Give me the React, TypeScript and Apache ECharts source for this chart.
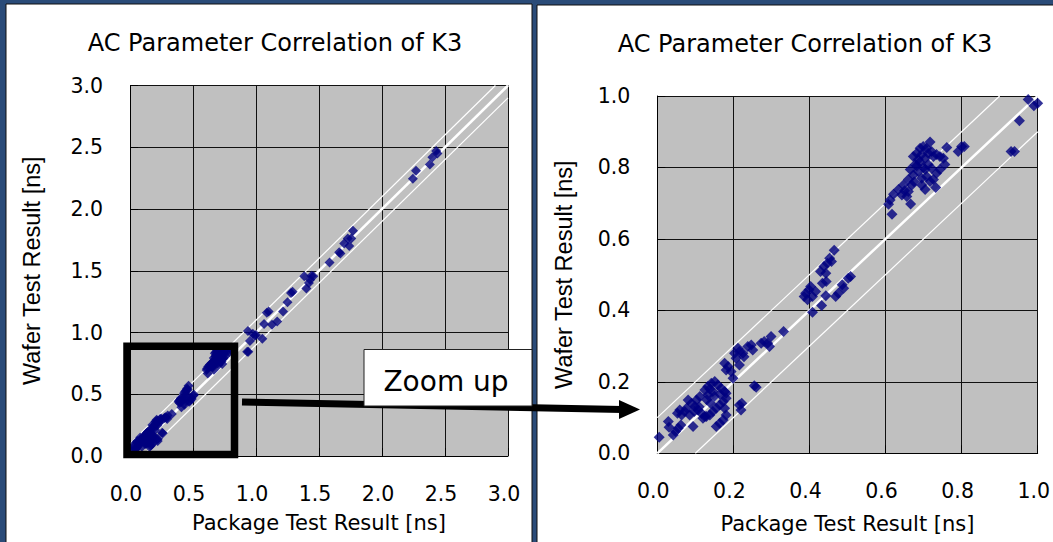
import React, { useEffect, useRef } from 'react';
import * as echarts from 'echarts';

const leftTicks = [0, 0.5, 1, 1.5, 2, 2.5, 3];
const rightTicks = [0, 0.2, 0.4, 0.6, 0.8, 1];
const titleText = 'AC Parameter Correlation of K3';
const xName = 'Package Test Result [ns]';
const yName = 'Wafer Test Result [ns]';
const zoomLabel = 'Zoom up';
const refOffsets = [0, 0.1, -0.1];

const lowCluster: number[][] = [
  [0.005, 0.045], [0.029, 0.089], [0.031, 0.073], [0.042, 0.051], [0.048, 0.061], [0.055, 0.07],
  [0.062, 0.079], [0.053, 0.112], [0.064, 0.107], [0.059, 0.121], [0.072, 0.117], [0.081, 0.149],
  [0.09, 0.14], [0.099, 0.131], [0.107, 0.121], [0.116, 0.112], [0.125, 0.103], [0.085, 0.107],
  [0.097, 0.117], [0.077, 0.126], [0.103, 0.149], [0.112, 0.159], [0.094, 0.075], [0.125, 0.177],
  [0.133, 0.187], [0.142, 0.196], [0.151, 0.201], [0.159, 0.191], [0.168, 0.182], [0.177, 0.173],
  [0.181, 0.154], [0.173, 0.145], [0.164, 0.135], [0.155, 0.126], [0.146, 0.117], [0.138, 0.107],
  [0.129, 0.103], [0.12, 0.098], [0.133, 0.163], [0.146, 0.173], [0.155, 0.075], [0.164, 0.084],
  [0.173, 0.093], [0.181, 0.107], [0.177, 0.126], [0.216, 0.135], [0.22, 0.121], [0.222, 0.14],
  [0.255, 0.189], [0.26, 0.185], [0.138, 0.18], [0.15, 0.16], [0.165, 0.165], [0.14, 0.14],
  [0.11, 0.13], [0.13, 0.15], [0.181, 0.168],
];

const lowerMidCluster: number[][] = [
  [0.177, 0.252], [0.186, 0.243], [0.194, 0.229], [0.199, 0.21], [0.181, 0.233], [0.216, 0.247],
  [0.207, 0.266], [0.216, 0.285], [0.212, 0.294], [0.203, 0.28], [0.238, 0.299], [0.247, 0.303],
  [0.251, 0.289], [0.273, 0.308], [0.281, 0.313], [0.29, 0.308], [0.299, 0.327], [0.295, 0.299],
  [0.332, 0.341], [0.225, 0.28], [0.228, 0.27],
];

const midCluster: number[][] = [
  [0.386, 0.439], [0.39, 0.448], [0.399, 0.458], [0.395, 0.43], [0.403, 0.467], [0.408, 0.439],
  [0.408, 0.395], [0.416, 0.453], [0.432, 0.414], [0.443, 0.441], [0.469, 0.439], [0.476, 0.448],
  [0.49, 0.462], [0.486, 0.472], [0.508, 0.495], [0.502, 0.49], [0.429, 0.509], [0.438, 0.523],
  [0.443, 0.504], [0.447, 0.532], [0.453, 0.546], [0.458, 0.537], [0.465, 0.568], [0.434, 0.476],
  [0.444, 0.481],
];

const highCluster: number[][] = [
  [0.617, 0.669], [0.608, 0.697], [0.612, 0.709], [0.621, 0.725], [0.666, 0.698], [0.634, 0.738],
  [0.647, 0.751], [0.643, 0.723], [0.656, 0.719], [0.66, 0.733], [0.66, 0.766], [0.669, 0.751],
  [0.673, 0.779], [0.665, 0.794], [0.678, 0.808], [0.673, 0.831], [0.682, 0.84], [0.691, 0.854],
  [0.699, 0.859], [0.708, 0.854], [0.717, 0.871], [0.686, 0.822], [0.695, 0.836], [0.704, 0.826],
  [0.712, 0.84], [0.721, 0.845], [0.726, 0.831], [0.734, 0.836], [0.743, 0.831], [0.752, 0.826],
  [0.761, 0.856], [0.756, 0.808], [0.743, 0.794], [0.734, 0.784], [0.721, 0.798], [0.712, 0.808],
  [0.704, 0.794], [0.686, 0.789], [0.695, 0.77], [0.708, 0.775], [0.717, 0.761], [0.726, 0.766],
  [0.704, 0.738], [0.695, 0.751], [0.732, 0.744], [0.791, 0.845], [0.8, 0.859], [0.807, 0.859],
  [0.682, 0.805], [0.69, 0.815], [0.7, 0.8], [0.675, 0.76], [0.65, 0.735],
];

const outerPoints: number[][] = [
  [0.93, 0.845], [0.939, 0.845], [0.952, 0.931], [0.99, 0.973], [0.936, 1.013], [0.975, 0.99],
  [1.0, 0.98], [1.05, 0.95], [1.064, 1.069], [1.086, 1.16], [1.1, 1.17], [1.127, 1.062],
  [1.168, 1.09], [1.215, 1.17], [1.25, 1.244], [1.278, 1.32], [1.29, 1.33], [1.383, 1.455],
  [1.43, 1.427], [1.4, 1.357], [1.455, 1.455], [1.42, 1.4], [1.44, 1.46], [1.584, 1.566],
  [1.66, 1.65], [1.67, 1.64], [1.7, 1.72], [1.728, 1.762], [1.77, 1.824], [1.756, 1.762],
  [1.74, 1.7], [2.245, 2.245], [2.27, 2.31], [2.38, 2.36], [2.4, 2.42], [2.43, 2.47], [2.44, 2.45],
];

const allPoints = [...lowCluster, ...lowerMidCluster, ...midCluster, ...highCluster, ...outerPoints];

const FONT = 'DejaVu Sans';

function refLine(max: number, off: number) {
  if (off >= 0) return [[0, off], [max - off, max]];
  return [[-off, 0], [max, max + off]];
}

function axisPair(idx: number, ticks: number[], yGap: number, xGap: number) {
  const min = ticks[0];
  const max = ticks[ticks.length - 1];
  const interval = +(ticks[1] - ticks[0]).toFixed(6);
  const common = {
    gridIndex: idx,
    type: 'value',
    min,
    max,
    interval,
    nameLocation: 'middle',
    axisLine: { show: true, lineStyle: { color: '#000', width: 1 } },
    axisTick: { show: true, inside: true, length: 8, lineStyle: { color: '#000' } },
    splitLine: { show: true, lineStyle: { color: '#111', width: 1 } },
  };
  return {
    x: {
      ...common,
      name: xName,
      nameGap: xGap,
      nameTextStyle: { fontFamily: FONT, fontSize: 21, color: '#000' },
      axisLabel: {
        fontFamily: FONT, fontSize: 20.5, color: '#000', margin: 27,
        padding: [0, 8, 0, 0],
        formatter: (v: number) => v.toFixed(1),
      },
    },
    y: {
      ...common,
      name: yName,
      nameGap: yGap,
      nameTextStyle: { fontFamily: 'Liberation Sans', fontSize: 23.5, color: '#000' },
      axisLabel: {
        fontFamily: FONT, fontSize: 20.5, color: '#000', margin: 27,
        formatter: (v: number) => v.toFixed(1),
      },
    },
  };
}

export default function App() {
  const ref = useRef<HTMLDivElement>(null);
  useEffect(() => {
    document.body.style.margin = '0';
    if (!ref.current) return;
    const chart = echarts.init(ref.current, null, { renderer: 'svg' });
    const L = axisPair(0, leftTicks, 86, 56);
    const R = axisPair(1, rightTicks, 81, 60);
    const maxes = [leftTicks[leftTicks.length - 1], rightTicks[rightTicks.length - 1]];
    const lineSeries: any[] = [];
    [0, 1].forEach((g) => {
      refOffsets.forEach((off) => {
        lineSeries.push({
          type: 'line',
          xAxisIndex: g,
          yAxisIndex: g,
          data: refLine(maxes[g], off),
          symbol: 'none',
          silent: true,
          z: 1,
          lineStyle: { color: '#fff', width: off === 0 ? 2.5 : 1.2 },
        });
      });
    });
    const option: any = {
      animation: false,
      backgroundColor: '#2a4b78',
      title: [
        { text: titleText, left: 270, top: 26, textAlign: 'center',
          textStyle: { fontFamily: FONT, fontSize: 24, fontWeight: 'normal', color: '#000' } },
        { text: titleText, left: 800, top: 27, textAlign: 'center',
          textStyle: { fontFamily: FONT, fontSize: 24, fontWeight: 'normal', color: '#000' } },
      ],
      grid: [
        { left: 130, top: 85.5, width: 378, height: 370.5, show: true, backgroundColor: '#c0c0c0', borderWidth: 0, z: 0 },
        { left: 657.3, top: 96, width: 382.7, height: 357.3, show: true, backgroundColor: '#c0c0c0', borderWidth: 0, z: 0 },
      ],
      xAxis: [L.x, R.x],
      yAxis: [L.y, R.y],
      series: [
        ...lineSeries,
        { type: 'scatter', xAxisIndex: 0, yAxisIndex: 0, data: allPoints, symbol: 'diamond', symbolSize: 10,
          itemStyle: { color: '#000080' }, z: 3, clip: true },
        { type: 'scatter', xAxisIndex: 1, yAxisIndex: 1, data: allPoints, symbol: 'diamond', symbolSize: 11,
          itemStyle: { color: '#000080' }, z: 3, clip: true },
      ],
      graphic: [
        { type: 'rect', z: -10, shape: { x: 6, y: 4, width: 526, height: 560 },
          style: { fill: '#fff', stroke: '#111', lineWidth: 1 } },
        { type: 'rect', z: -10, shape: { x: 537, y: 5, width: 530, height: 560 },
          style: { fill: '#fff', stroke: '#111', lineWidth: 1 } },
        { type: 'rect', z: 100, shape: { x: 127, y: 346.3, width: 107.5, height: 108.2 },
          style: { fill: 'none', stroke: '#000', lineWidth: 7.5 } },
        { type: 'line', z: 100, shape: { x1: 242, y1: 402, x2: 622, y2: 409.5 },
          style: { stroke: '#000', lineWidth: 7 } },
        { type: 'polygon', z: 100, shape: { points: [[640, 409.5], [619, 400], [619, 419]] },
          style: { fill: '#000' } },
        { type: 'rect', z: 101, shape: { x: 364, y: 349.5, width: 168, height: 56.5 },
          style: { fill: '#fff', stroke: '#222', lineWidth: 1 } },
        { type: 'text', z: 102, x: 446, y: 381,
          style: { text: zoomLabel, fontFamily: FONT, fontSize: 28, fill: '#000', align: 'center', verticalAlign: 'middle' } },
      ],
    };
    chart.setOption(option);
    return () => chart.dispose();
  }, []);
  return <div ref={ref} style={{ width: 1053, height: 542 }} />;
}
